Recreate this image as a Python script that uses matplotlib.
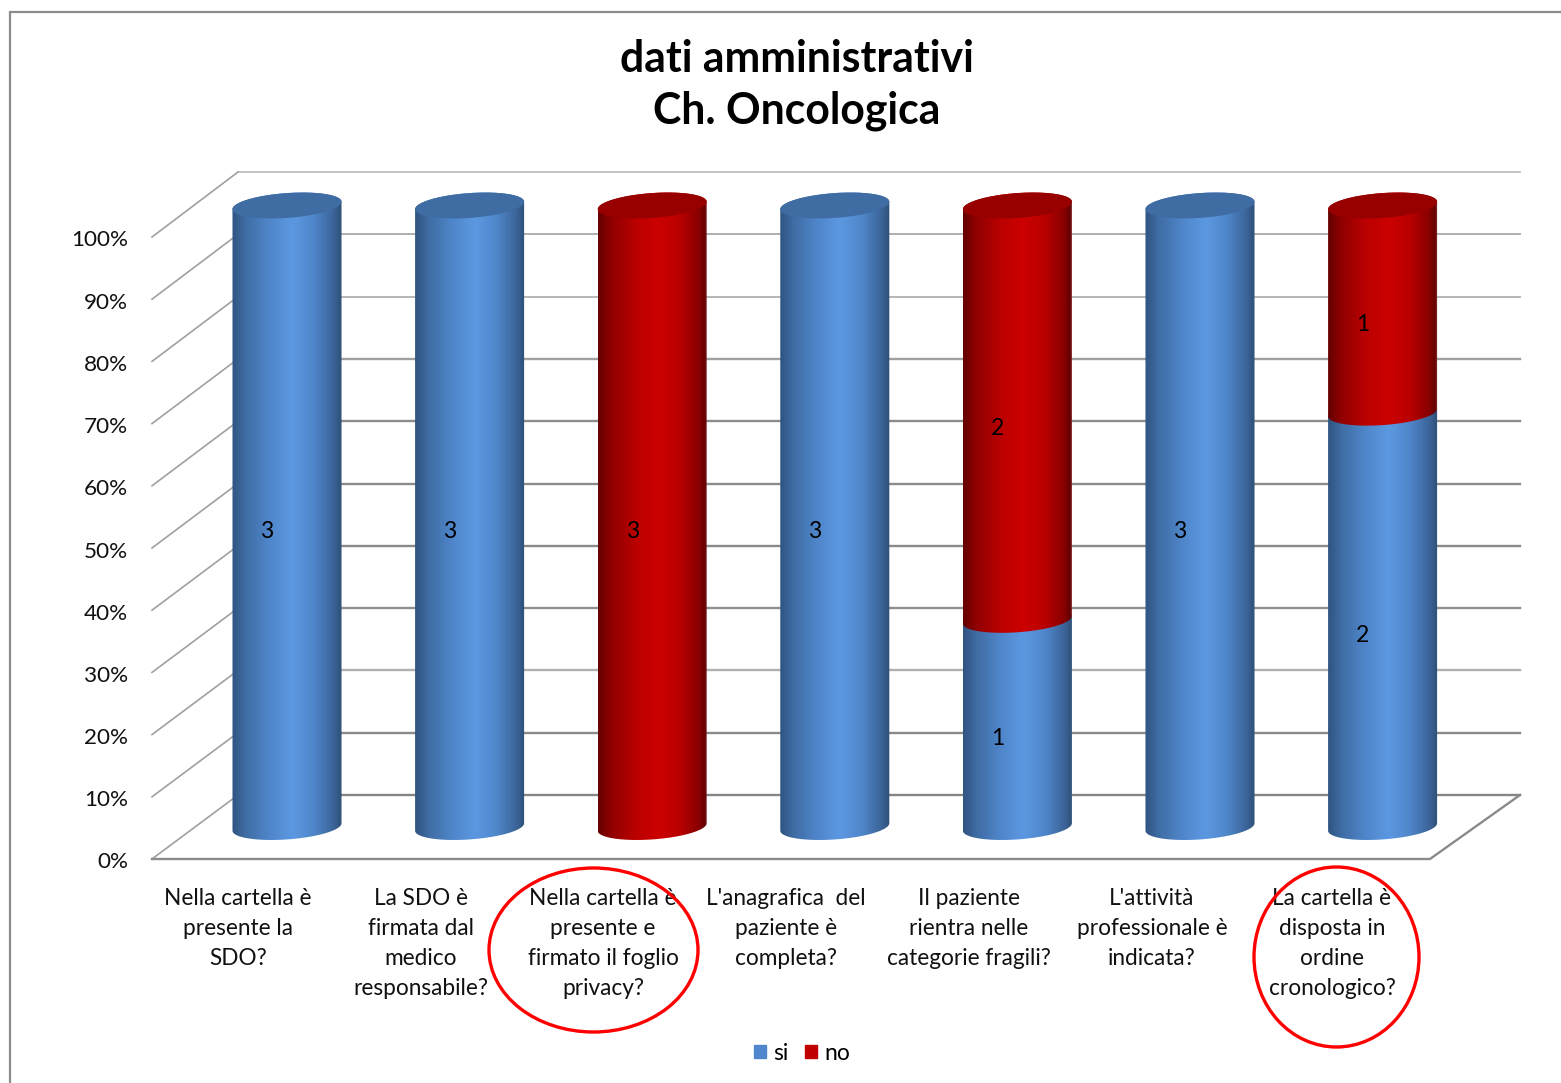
# -*- coding: utf-8 -*-
"""
Description: Stacked 100% cylinder chart 'dati amministrativi - Ch. Oncologica'
"""
# =============================     Import modules     =====================
import numpy as np
import matplotlib
matplotlib.use('Agg')
import matplotlib.pyplot as plt
from matplotlib.colors import LinearSegmentedColormap
from matplotlib.patches import Ellipse, Patch, PathPatch
from matplotlib.path import Path

# =============================        Chart data      =====================
categories = [
    'Nella cartella è\npresente la\nSDO?',
    'La SDO è\nfirmata dal\nmedico\nresponsabile?',
    'Nella cartella è\npresente e\nfirmato il foglio\nprivacy?',
    "L'anagrafica  del\npaziente è\ncompleta?",
    'Il paziente\nrientra nelle\ncategorie fragili?',
    "L'attività\nprofessionale è\nindicata?",
    'La cartella è\ndisposta in\nordine\ncronologico?',
]
si = [3, 3, 0, 3, 1, 3, 2]
no = [0, 0, 3, 0, 2, 0, 1]
pct_ticks = [0, 10, 20, 30, 40, 50, 60, 70, 80, 90, 100]
pct_labels = ['0%', '10%', '20%', '30%', '40%', '50%', '60%', '70%', '80%', '90%', '100%']
title = 'dati amministrativi\nCh. Oncologica'

# ================   User settings   =======================================
W, H = 1561, 1083
font = 'Lato'
c_frame = '#8c8c8c'
# -- Colors of back wall lines, they are not even in the original picture
c_grid = ['#858585', '#8a8a8a', '#b0b0b0', '#909090', '#8a8a8a', '#8c8c8c',
          '#8c8c8c', '#a0a0a0', '#b0b0b0', '#a8a8a8', '#c0c0c0']

# -- Geometry in pixels of the picture
front_0, front_100 = 859, 237   # left edge of the chart
back_0, back_100 = 795, 172     # back wall
x_front, x_back = 152, 238
x_floor_r, x_back_r = 1430, 1520
bar_0, bar_100 = 827, 205.5     # bar centers at 0 and 100 %
bar_c0, bar_step = 287, 182.6
half_w = 0.2985                 # cylinder half width (category units)
ell_b, ell_s = 2.0, 0.6         # ellipse half height and tilt (% units)

cmaps = {
    'si': LinearSegmentedColormap.from_list('si', [
        (0.0, '#2f5480'), (0.12, '#3f6ca3'), (0.35, '#5087cc'), (0.55, '#5c98e2'),
        (0.75, '#4f86c9'), (0.92, '#3c659a'), (1.0, '#2f5078')]),
    'no': LinearSegmentedColormap.from_list('no', [
        (0.0, '#640000'), (0.12, '#900000'), (0.35, '#bc0000'), (0.55, '#cc0000'),
        (0.75, '#b80000'), (0.92, '#880000'), (0.975, '#640000'), (1.0, '#8a3a42')]),
}
c_top = {'si': '#3f6ca3', 'no': '#980000'}
c_legend = {'si': '#5087cc', 'no': '#c00000'}


# =============================   Personal functions   =====================
def arc(cx, cy, t):
    return np.column_stack([cx + half_w * np.cos(t),
                            cy + ell_b * np.sin(t) + ell_s * np.cos(t)])


def cylinder(ax, pos, y0, y1, key, top):
    # -- Side of cylinder: gradient clipped by outline with lower elliptic edge
    t_low = np.linspace(np.pi, 2 * np.pi, 60)
    t_up = np.linspace(0, np.pi, 60)
    verts = np.vstack([arc(pos, y0, t_low), arc(pos, y1, t_up)])
    path = Path(np.vstack([verts, verts[0]]), closed=True)
    im = ax.imshow(np.linspace(0, 1, 256)[None, :], cmap=cmaps[key], aspect='auto',
                   extent=(pos - half_w, pos + half_w, y0 - 4, y1 + 4),
                   interpolation='bilinear', zorder=2)
    # -- Lower edge of cylinder goes below the axes box
    im.set_clip_box(fig.bbox)
    im.set_clip_path(PathPatch(path, transform=ax.transData))
    if top:
        t = np.linspace(0, 2 * np.pi, 120)
        ax.fill(*arc(pos, y1, t).T, color=c_top[key], lw=0, zorder=3, clip_on=False)


def value_label(pos, pct, val):
    # -- Labels sit in the front plane, so they are moved from cylinder axis
    xp = bar_c0 + bar_step * pos - 20
    yp = bar_0 + 15.5 - (bar_0 - bar_100) * pct / 100
    fig.text(xp / W, 1 - yp / H, str(val), ha='center', va='center', family=font,
             fontsize=16.5, color='black', zorder=5)


#=============================    Main program   ==============================
if __name__ == '__main__':
    fig = plt.figure(figsize=(W / 100, H / 100), dpi=100)

    # -- Decoration axes, units are pixels from top left corner
    bg = fig.add_axes([0, 0, 1, 1])
    bg.set_xlim(0, W)
    bg.set_ylim(H, 0)
    bg.axis('off')

    # -- Outer frame
    bg.plot([10.5, 10.5, W], [H, 11.5, 11.5], color=c_frame, lw=1.6, solid_joinstyle='miter')

    # -- Walls and floor
    for num, tick in enumerate(pct_ticks):
        yb = back_0 + (back_100 - back_0) * tick / 100
        yf = front_0 + (front_100 - front_0) * tick / 100
        lw = 1.7 if tick < 80 else 1.3
        bg.plot([x_back, x_back_r], [yb, yb], color=c_grid[num], lw=lw, zorder=1)
        bg.plot([x_front, x_back], [yf, yb], color='#a0a0a0', lw=1.2, zorder=1)
        bg.text(128, yf + 3.5, pct_labels[num], ha='right', va='center', family=font,
                fontsize=16.2, color='#111111')
    bg.plot([x_front, x_floor_r, x_back_r], [front_0, front_0, back_0],
            color='#8a8a8a', lw=1.7, zorder=1)

    # -- Title
    bg.text(797, 85, title, ha='center', va='center', family=font, fontweight='bold',
            fontsize=30.8, linespacing=1.33, color='black')

    # -- Bars, front plane of cylinders has its own scale
    ax = fig.add_axes([(bar_c0 - bar_step / 2) / W, 1 - bar_0 / H,
                       7 * bar_step / W, (bar_0 - bar_100) / H])
    ax.patch.set_alpha(0)
    ax.axis('off')
    for i in range(len(categories)):
        total = si[i] + no[i]
        p_si = 100 * si[i] / total
        if si[i] > 0:
            cylinder(ax, i, 0, p_si, 'si', no[i] == 0)
            value_label(i, p_si / 2, si[i])
        if no[i] > 0:
            cylinder(ax, i, p_si, 100, 'no', True)
            value_label(i, (p_si + 100) / 2, no[i])
    ax.set_xlim(-0.5, 6.5)
    ax.set_ylim(0, 100)

    # -- Category labels
    lab_x = [238, 421, 603, 786, 969, 1152, 1332]
    for name, xpos in zip(categories, lab_x):
        bg.text(xpos, 888, name, ha='center', va='top', family=font, fontsize=16.3,
                linespacing=1.53, color='#111111')

    # -- Red circles drawn over the picture
    top = fig.add_axes([0, 0, 1, 1])
    top.set_xlim(0, W)
    top.set_ylim(H, 0)
    top.axis('off')
    top.patch.set_alpha(0)
    top.add_patch(Ellipse((593.5, 950), 209, 164, fill=False, ec='red', lw=2.4))
    top.add_patch(Ellipse((1336.5, 957), 165, 180, fill=False, ec='red', lw=2.4))

    # -- Legend
    handles = [Patch(color=c_legend['si'], label='si'), Patch(color=c_legend['no'], label='no')]
    leg = top.legend(handles=handles, ncol=2, loc='center', frameon=False,
                     bbox_to_anchor=(802 / W, 1 - 1053 / H), handlelength=0.52, handleheight=0.52,
                     handletextpad=0.3, columnspacing=0.75,
                     prop={'family': font, 'size': 16.5})

    plt.savefig('out.png', format='png', dpi=100)
    plt.close(fig)
# =============================    End of program   =======================
